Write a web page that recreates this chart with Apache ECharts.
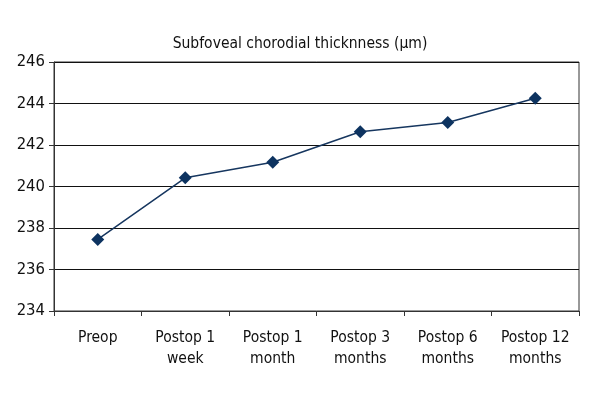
<!DOCTYPE html>
<html>
<head>
<meta charset="utf-8">
<script src="https://cdn.jsdelivr.net/npm/echarts@6/dist/echarts.min.js"></script>
<style>html,body{margin:0;padding:0;background:#fff}#c{width:600px;height:400px}</style>
</head>
<body>
<div id="c"></div>
<script>
const categories = ["Preop", "Postop 1\nweek", "Postop 1\nmonth", "Postop 3\nmonths", "Postop 6\nmonths", "Postop 12\nmonths"];
const values = [237.45, 240.42, 241.17, 242.64, 243.08, 244.25];
const yTicks = [234, 236, 238, 240, 242, 244, 246];
const titleText = "Subfoveal chorodial thicknness (\u00b5m)";
const FONT = "'Liberation Sans Narrow', 'DejaVu Sans Condensed', sans-serif";
const chart = echarts.init(document.getElementById('c'));
chart.setOption({
  animation: false,
  backgroundColor: '#fff',
  title: {
    text: titleText, left: 'center', top: 31,
    textStyle: { fontFamily: FONT, fontSize: 15.5, fontWeight: 'normal', color: '#111' }
  },
  grid: { left: 54, right: 21, top: 62, bottom: 89, show: true, borderColor: '#333', borderWidth: 1, backgroundColor: 'transparent' },
  xAxis: {
    type: 'category', data: categories, boundaryGap: true,
    axisLine: { lineStyle: { color: '#333', width: 1 } },
    axisTick: { show: true, length: 5, lineStyle: { color: '#333' } },
    axisLabel: { fontFamily: FONT, fontSize: 15.5, color: '#111', margin: 16, lineHeight: 21, interval: 0 }
  },
  yAxis: {
    type: 'value', min: yTicks[0], max: yTicks[yTicks.length - 1], interval: 2,
    axisLine: { show: true, lineStyle: { color: '#333', width: 1 } },
    axisTick: { show: true, length: 5, lineStyle: { color: '#333' } },
    axisLabel: { fontFamily: FONT, fontSize: 16.5, color: '#111', margin: 9 },
    splitLine: { show: true, lineStyle: { color: '#111', width: 1.2 } }
  },
  series: [{
    type: 'line', data: values,
    symbol: 'diamond', symbolSize: 13,
    lineStyle: { color: '#16365f', width: 1.5 },
    itemStyle: { color: '#0d3360' }
  }]
});
</script>
</body>
</html>
